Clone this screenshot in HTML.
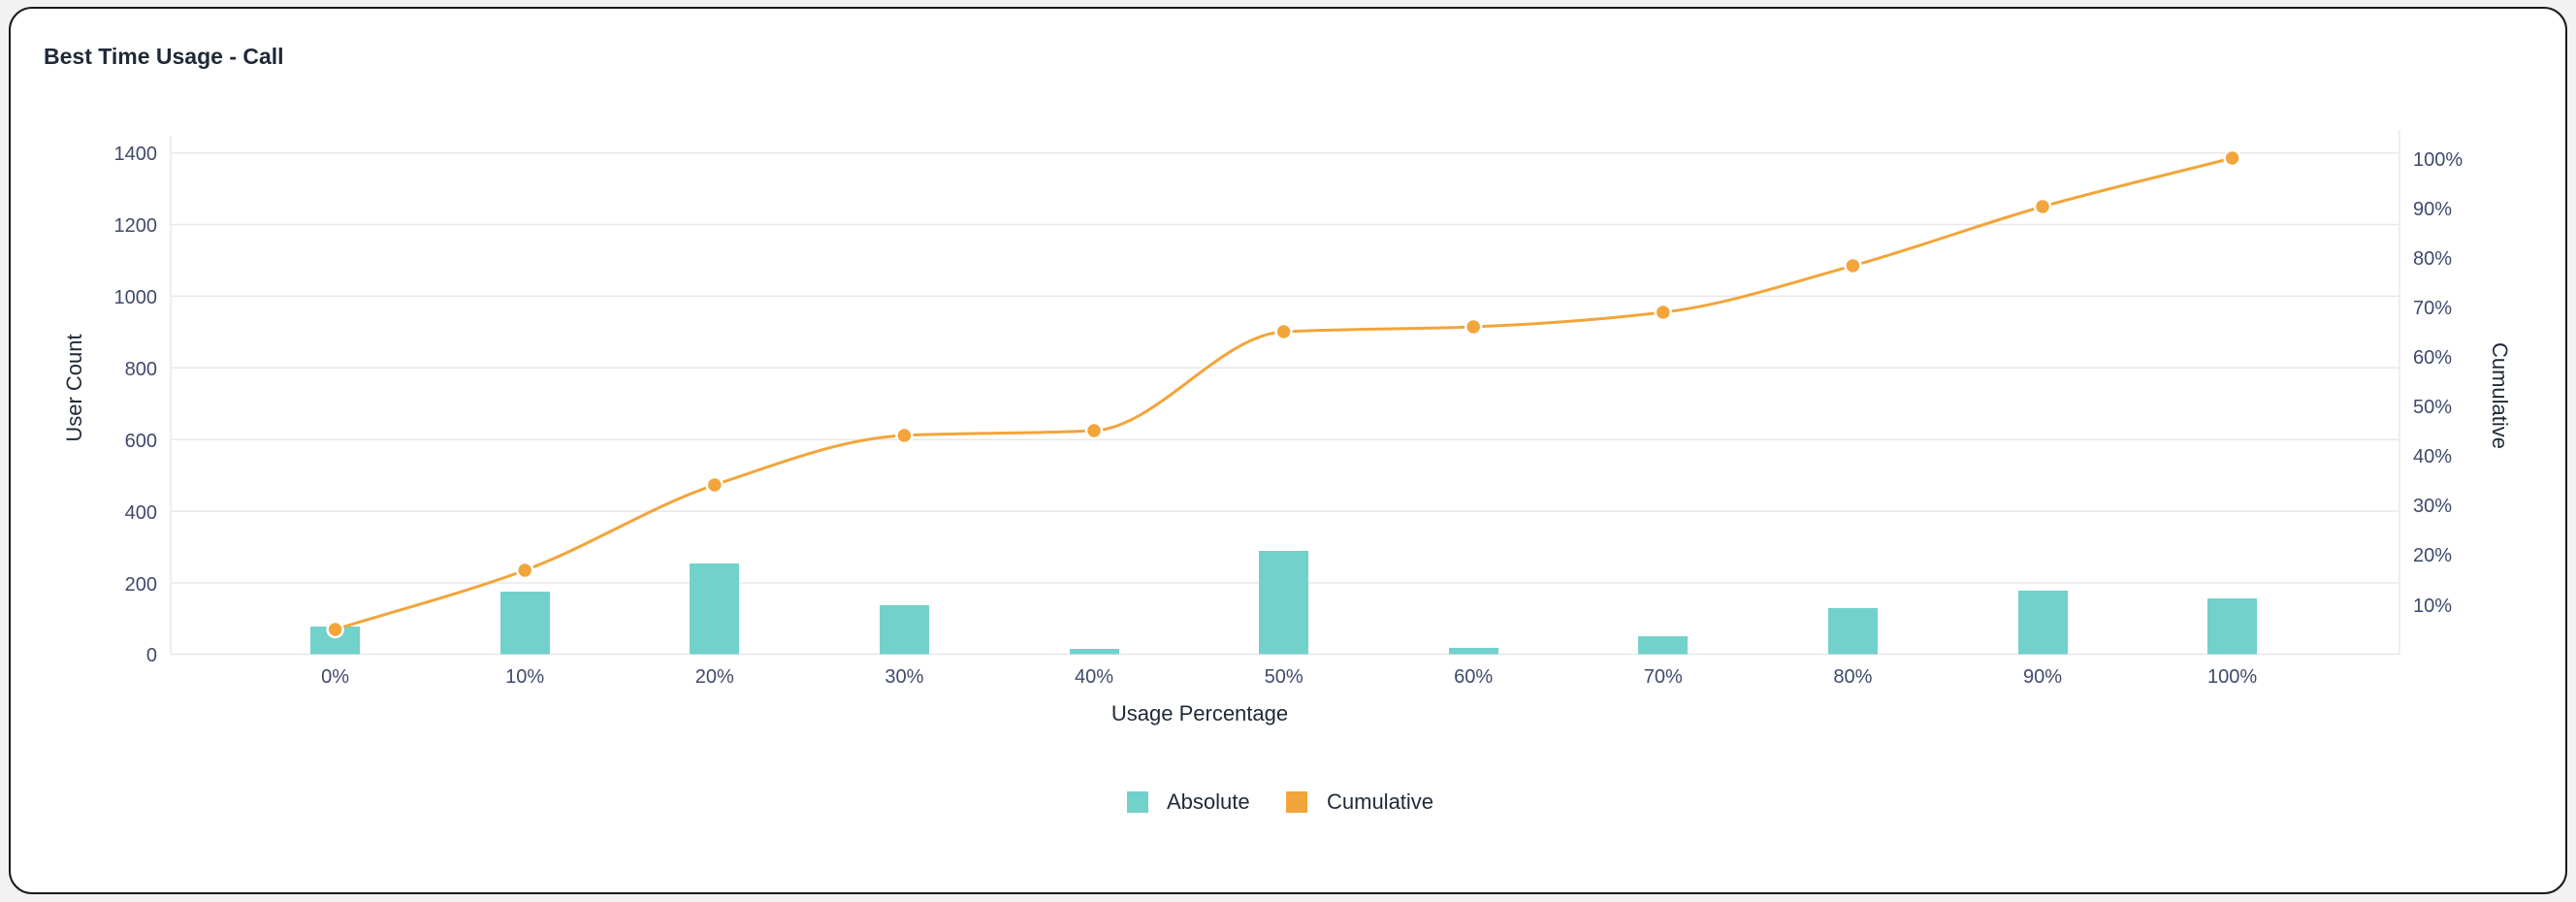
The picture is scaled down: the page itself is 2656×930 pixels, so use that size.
<!DOCTYPE html>
<html><head><meta charset="utf-8"><style>
html,body{margin:0;padding:0;background:#f2f2f3;width:2656px;height:930px;overflow:hidden}
.card{position:absolute;left:9px;top:7px;width:2634px;height:911px;border:2.5px solid #1a1a1a;border-radius:24px;background:#fff}
svg{position:absolute;left:0;top:0}
text{font-family:"Liberation Sans",sans-serif}
</style></head><body>
<div class="card"></div>
<svg width="2656" height="930" viewBox="0 0 2656 930">
<text x="45" y="66" font-size="23" font-weight="bold" fill="#1f2937">Best Time Usage - Call</text>
<g stroke="#e8e8ec" stroke-width="1.5">
<line x1="176" y1="157.6" x2="2474" y2="157.6"/>
<line x1="176" y1="231.5" x2="2474" y2="231.5"/>
<line x1="176" y1="305.4" x2="2474" y2="305.4"/>
<line x1="176" y1="379.3" x2="2474" y2="379.3"/>
<line x1="176" y1="453.2" x2="2474" y2="453.2"/>
<line x1="176" y1="527.1" x2="2474" y2="527.1"/>
<line x1="176" y1="601" x2="2474" y2="601"/>
<line x1="176" y1="674.5" x2="2474" y2="674.5"/>
<line x1="176" y1="140" x2="176" y2="674.5"/>
<line x1="2474" y1="134" x2="2474" y2="674.5"/>
</g>
<g font-size="20" fill="#3f4a6b" text-anchor="end">
<text x="162" y="165">1400</text><text x="162" y="239">1200</text><text x="162" y="313">1000</text>
<text x="162" y="387">800</text><text x="162" y="461">600</text><text x="162" y="535">400</text>
<text x="162" y="609">200</text><text x="162" y="682">0</text>
</g>
<g font-size="20" fill="#3f4a6b">
<text x="2488" y="171">100%</text><text x="2488" y="222">90%</text><text x="2488" y="273">80%</text>
<text x="2488" y="324">70%</text><text x="2488" y="375">60%</text><text x="2488" y="426">50%</text>
<text x="2488" y="477">40%</text><text x="2488" y="528">30%</text><text x="2488" y="579">20%</text>
<text x="2488" y="631">10%</text>
</g>
<g font-size="20" fill="#3f4a6b" text-anchor="middle">
<text x="345.6" y="704">0%</text><text x="541.2" y="704">10%</text><text x="736.8" y="704">20%</text>
<text x="932.4" y="704">30%</text><text x="1128" y="704">40%</text><text x="1323.6" y="704">50%</text>
<text x="1519.2" y="704">60%</text><text x="1714.8" y="704">70%</text><text x="1910.4" y="704">80%</text>
<text x="2106" y="704">90%</text><text x="2301.6" y="704">100%</text>
</g>
<text x="1237" y="743" font-size="22" fill="#1f2937" text-anchor="middle">Usage Percentage</text>
<text transform="translate(84,400) rotate(-90)" font-size="22" fill="#1f2937" text-anchor="middle">User Count</text>
<text transform="translate(2570,408) rotate(90)" font-size="22" fill="#1f2937" text-anchor="middle">Cumulative</text>
<g fill="#72d1cb">
<rect x="320" y="646" width="51" height="28.5"/>
<rect x="516" y="610" width="51" height="64.5"/>
<rect x="711" y="581" width="51" height="93.5"/>
<rect x="907" y="624" width="51" height="50.5"/>
<rect x="1103" y="669" width="51" height="5.5"/>
<rect x="1298" y="568" width="51" height="106.5"/>
<rect x="1494" y="668" width="51" height="6.5"/>
<rect x="1689" y="656" width="51" height="18.5"/>
<rect x="1885" y="627" width="51" height="47.5"/>
<rect x="2081" y="609" width="51" height="65.5"/>
<rect x="2276" y="617" width="51" height="57.5"/>
</g>
<path fill="none" stroke="#f2a53a" stroke-width="3" d="M345.6,649 C410.8,628.7 476,612 541.2,588 C606.4,564 671.6,521.7 736.8,500 C802,478.3 867.2,452 932.4,449 C997.6,446 1062.8,447.3 1128,444 C1193.2,440.7 1258.4,345.3 1323.6,342 C1388.8,338.7 1454,339.7 1519.2,337 C1584.4,334.3 1649.6,329.7 1714.8,322 C1780,314.3 1845.2,292 1910.4,274 C1975.6,256 2040.8,231.3 2106,213 C2171.2,194.7 2236.4,179.7 2301.6,163"/>
<g fill="#f2a53a" stroke="#fff" stroke-width="2.5">
<circle cx="345.6" cy="649" r="8"/><circle cx="541.2" cy="588" r="8"/><circle cx="736.8" cy="500" r="8"/>
<circle cx="932.4" cy="449" r="8"/><circle cx="1128" cy="444" r="8"/><circle cx="1323.6" cy="342" r="8"/>
<circle cx="1519.2" cy="337" r="8"/><circle cx="1714.8" cy="322" r="8"/><circle cx="1910.4" cy="274" r="8"/>
<circle cx="2106" cy="213" r="8"/><circle cx="2301.6" cy="163" r="8"/>
</g>
<rect x="1162" y="816" width="22" height="22" fill="#72d1cb"/>
<text x="1203" y="834" font-size="22" fill="#1f2937">Absolute</text>
<rect x="1326" y="816" width="22" height="22" fill="#f2a53a"/>
<text x="1368" y="834" font-size="22" fill="#1f2937">Cumulative</text>
</svg>
</body></html>
